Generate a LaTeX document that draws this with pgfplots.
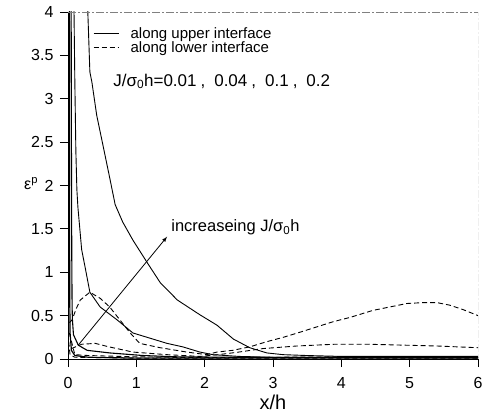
\documentclass[border=0pt]{standalone}
\usepackage{fontspec}
\setmainfont{Liberation Sans}
\usepackage{pgfplots}
\pgfplotsset{compat=1.18}
\begin{document}
\begin{tikzpicture}
\begin{axis}[
  scale only axis, width=410pt, height=347pt,
  xmin=0, xmax=6, ymin=0, ymax=4,
  axis x line*=bottom, axis y line*=left,
  axis line style={black, line width=1pt},
  xtick={0,1,2,3,4,5,6},
  ytick={0,0.5,1,1.5,2,2.5,3,3.5,4},
  tick align=outside,
  major tick length=8pt,
  tick style={black, line width=0.8pt},
  /pgf/number format/assume math mode=true,
  tick label style={font=\fontsize{16}{16}\selectfont},
  xticklabel style={yshift=-7pt},
  yticklabel style={xshift=-3pt},
  xlabel={x/h},
  xlabel style={font=\fontsize{20}{20}\selectfont, at={(axis description cs:0.5,-0.126)}, anchor=center},
  ylabel={ε\textsuperscript{p}},
  ylabel style={font=\fontsize{16}{16}\selectfont, rotate=-90, at={(axis description cs:-0.09,0.505)}, anchor=center},
  legend style={draw=none, fill=none, at={(axis description cs:0.061,0.958)}, anchor=north west,
    font=\fontsize{15}{15}\selectfont, inner sep=0pt, row sep=0.5pt,
    nodes={inner sep=0.5pt},
    /tikz/every odd column/.append style={column sep=11pt}},
  legend cell align=left,
  legend image code/.code={\draw[#1] (0pt,0pt) -- (25pt,0pt);},
  every axis plot/.append style={black, line width=0.9pt},
]
\addlegendimage{black, line width=0.9pt}
\addlegendentry{along upper interface}
\addlegendimage{black, line width=0.9pt, dash pattern=on 5pt off 3pt}
\addlegendentry{along lower interface}

% solid, J=0.01
\addplot[forget plot, line width=1.2pt] coordinates {
(0.02,4.5) (0.022,2) (0.025,0.8) (0.03,0.3) (0.05,0.1) (0.1,0.04) (0.3,0.02) (1,0.01) (6,0.01)};
% solid, J=0.04
\addplot[forget plot, line width=1.1pt] coordinates {
(0.045,4.5) (0.05,2.5) (0.055,1.2) (0.06,0.6) (0.065,0.45) (0.08,0.28) (0.15,0.16) (0.28,0.1) (0.61,0.07) (1.1,0.04) (1.6,0.025) (2.5,0.02) (6,0.015)};
% solid, J=0.1
\addplot[forget plot] coordinates {
(0.085,4.5) (0.088,4) (0.1,3.2) (0.115,2.4) (0.13,1.95) (0.145,1.75) (0.2,1.26) (0.25,1.06) (0.32,0.77) (0.47,0.6) (0.72,0.45) (0.95,0.3) (1.2,0.24) (1.45,0.18) (1.68,0.14) (1.93,0.08) (2.12,0.05) (2.5,0.03) (3,0.02) (6,0.015)};
% solid, J=0.2
\addplot[forget plot] coordinates {
(0.27,4.5) (0.29,4) (0.32,3.31) (0.35,3.19) (0.42,2.81) (0.51,2.47) (0.61,2.09) (0.69,1.78) (0.8,1.58) (0.95,1.37) (1.16,1.11) (1.35,0.88) (1.6,0.68) (1.93,0.51) (2.18,0.39) (2.42,0.23) (2.66,0.13) (2.91,0.07) (3.15,0.05) (3.5,0.04) (4,0.03) (5,0.03) (6,0.03)};

% dashed, J=0.01
\addplot[forget plot, dash pattern=on 5pt off 3pt] coordinates {
(0.01,0.2) (0.03,0.05) (0.1,0.02) (1,0.01) (6,0.01)};
% dashed, J=0.04
\addplot[forget plot, dash pattern=on 5pt off 3pt] coordinates {
(0.02,0.3) (0.1,0.05) (0.3,0.04) (1,0.025) (2,0.015) (3,0.02) (4,0.025) (6,0.02)};
% dashed, J=0.1
\addplot[forget plot, dash pattern=on 5pt off 3pt] coordinates {
(0.05,0.12) (0.2,0.17) (0.4,0.18) (0.6,0.14) (0.95,0.08) (1.45,0.05) (1.93,0.03) (2.2,0.05) (2.5,0.08) (2.85,0.12) (3.35,0.15) (3.9,0.17) (4.4,0.17) (4.9,0.16) (5.4,0.15) (6,0.13)};
% dashed, J=0.2
\addplot[forget plot, dash pattern=on 5pt off 3pt] coordinates {
(0.02,0.42) (0.06,0.45) (0.12,0.58) (0.18,0.68) (0.32,0.77) (0.47,0.7) (0.61,0.6) (0.76,0.45) (0.91,0.3) (1.05,0.18) (1.35,0.13) (1.74,0.08) (2.03,0.05) (2.18,0.08) (2.41,0.1) (2.66,0.14) (2.91,0.2) (3.15,0.25) (3.4,0.31) (3.64,0.37) (3.88,0.43) (4.13,0.48) (4.46,0.56) (4.71,0.6) (4.96,0.64) (5.2,0.65) (5.4,0.65) (5.59,0.62) (5.78,0.57) (6,0.5)};

\draw[->, >=latex, black, line width=0.8pt] (axis cs:0.15,0.16) -- (axis cs:1.45,1.41);
\node[anchor=west, inner sep=0pt, font=\fontsize{16.5}{16.5}\selectfont] at (axis cs:1.51,1.52) {increaseing J/σ\textsubscript{0}h};
\node[anchor=west, inner sep=0pt, font=\fontsize{17}{17}\selectfont] at (axis cs:0.66,3.2) {J/σ\textsubscript{0}h=0.01\hspace{4pt},\hspace{9pt}0.04\hspace{4pt},\hspace{9pt}0.1\hspace{4pt},\hspace{9pt}0.2};
\draw[gray, line width=0.6pt, dash pattern=on 8pt off 2pt on 2pt off 2pt] (rel axis cs:0,1) -- (rel axis cs:1,1) -- (rel axis cs:1,0);
\end{axis}
\path ([shift={(-68pt,-56pt)}]current axis.south west) rectangle ([shift={(12pt,12pt)}]current axis.north east);
\end{tikzpicture}
\end{document}
